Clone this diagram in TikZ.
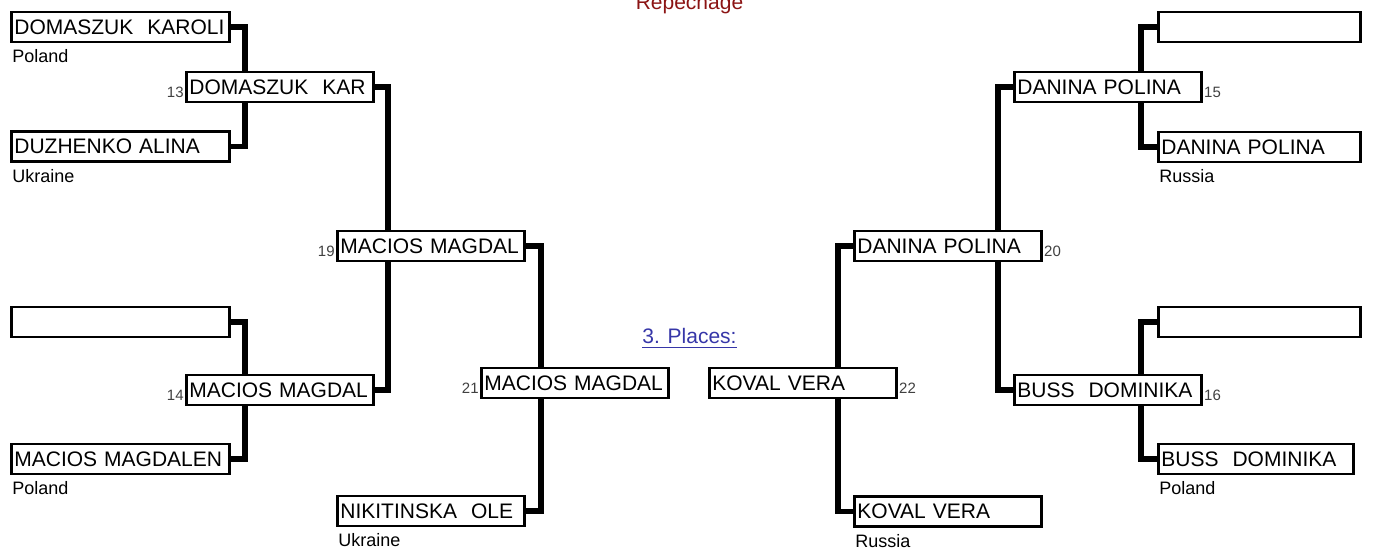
\documentclass[tikz,border=0pt]{standalone}
\usepackage{fontspec}
\setmainfont{Liberation Sans}
\usetikzlibrary{positioning}
\definecolor{repred}{HTML}{8B1414}
\definecolor{placeblue}{HTML}{3636A8}
\tikzset{
	entry/.style={draw, line width=1.4pt, fill=white, anchor=west, minimum height=15pt,
		inner xsep=1.5pt, inner ysep=0pt, align=left, font=\fontsize{10.5}{12}\selectfont},
	wideA/.style={text width=106pt},
	wideB/.style={text width=90.5pt},
	wideC/.style={text width=98pt},
	wideD/.style={text width=94.5pt},
	num/.style={inner sep=0.5pt, text=black!75, font=\fontsize{7.5}{8}\selectfont},
	nation/.style={anchor=north west, inner sep=1pt, font=\fontsize{9}{10}\selectfont},
	bracket/.style={draw, line width=2.7pt, to path={-| (\tikztotarget)}}
}
\begin{document}
\begin{tikzpicture}[x=0.5pt, y=-0.5pt]
				\useasboundingbox (0,0) rectangle (1373,549);
				\node (title) [anchor=base, text=repred, font=\fontsize{10.5}{12}\selectfont] at (689.5,10) {Repechage};
				\node (places) [anchor=base, text=placeblue, font=\fontsize{10.5}{12}\selectfont] at (689.5,344) {\underline{3. Places:}};
				% spine positions
				\coordinate (s13) at (245,0);
				\coordinate (s14) at (245,0);
				\coordinate (s19) at (388,0);
				\coordinate (s21) at (541,0);
				\coordinate (s22) at (838,0);
				\coordinate (s20) at (998,0);
				\coordinate (s15) at (1141,0);
				\coordinate (s16) at (1141,0);
				\begin{scope}[every node/.style={entry}]
					% left half
					\node (p1)[wideA] at (10,27) {DOMASZUK\ \ KAROLI};
					\node (p2)[wideA] at (10,146.5) {DUZHENKO ALINA};
					\node (p3)[wideA] at (10,322) {};
					\node (p4)[wideA] at (10,459) {MACIOS MAGDALEN};
					\node (m13)[wideB] at (185,87) {DOMASZUK\ \ KAR};
					\node (m14)[wideB] at (185,390) {MACIOS MAGDAL};
					\node (m19)[wideB] at (336,246) {MACIOS MAGDAL};
					\node (m21)[wideB] at (480,383) {MACIOS MAGDAL};
					\node (p5)[wideB] at (336,511) {NIKITINSKA\ \ OLE};
					% right half
					\node (m22)[wideB] at (708,383) {KOVAL VERA};
					\node (m20)[wideB] at (853,246) {DANINA POLINA};
					\node (q5)[wideB] at (853,511.5) {KOVAL VERA};
					\node (m15)[wideB] at (1013,87) {DANINA POLINA};
					\node (m16)[wideB] at (1013,390) {BUSS\ \ DOMINIKA};
					\node (q1)[wideC] at (1157,27) {};
					\node (q2)[wideC] at (1157,147) {DANINA POLINA};
					\node (q3)[wideC] at (1157,322) {};
					\node (q4)[wideD] at (1157,459) {BUSS\ \ DOMINIKA};
				\end{scope}
				\begin{scope}[every node/.style={num}]
					\node (n13)[left=0pt of m13.west, yshift=-2.5pt] {13};
					\node (n14)[left=0pt of m14.west, yshift=-2.5pt] {14};
					\node (n19)[left=0pt of m19.west, yshift=-2.5pt] {19};
					\node (n21)[left=0pt of m21.west, yshift=-2.5pt] {21};
					\node (n22)[right=0pt of m22.east, yshift=-2.5pt] {22};
					\node (n20)[right=0pt of m20.east, yshift=-2.5pt] {20};
					\node (n15)[right=0pt of m15.east, yshift=-2.5pt] {15};
					\node (n16)[right=0pt of m16.east, yshift=-2.5pt] {16};
				\end{scope}
				\begin{scope}[every node/.style={nation}]
					\node (c1) at ([yshift=-2pt]p1.south west) {Poland};
					\node (c2) at ([yshift=-2pt]p2.south west) {Ukraine};
					\node (c4) at ([yshift=-2pt]p4.south west) {Poland};
					\node (c5) at ([yshift=-2pt]p5.south west) {Ukraine};
					\node (c6) at ([yshift=-2pt]q5.south west) {Russia};
					\node (c7) at ([yshift=-2pt]q2.south west) {Russia};
					\node (c8) at ([yshift=-2pt]q4.south west) {Poland};
				\end{scope}
				\begin{scope}[every edge/.style={bracket}]
					\path [-] (p1.east) edge (m13.north -| s13);
					\path [-] (p2.east) edge (m13.south -| s13);
					\path [-] (p3.east) edge (m14.north -| s14);
					\path [-] (p4.east) edge (m14.south -| s14);
					\path [-] (m13.east) edge (m19.north -| s19);
					\path [-] (m14.east) edge (m19.south -| s19);
					\path [-] (m19.east) edge (m21.north -| s21);
					\path [-] (p5.east) edge (m21.south -| s21);

					\path [-] (m20.west) edge (m22.north -| s22);
					\path [-] (q5.west) edge (m22.south -| s22);
					\path [-] (m15.west) edge (m20.north -| s20);
					\path [-] (m16.west) edge (m20.south -| s20);
					\path [-] (q1.west) edge (m15.north -| s15);
					\path [-] (q2.west) edge (m15.south -| s15);
					\path [-] (q3.west) edge (m16.north -| s16);
					\path [-] (q4.west) edge (m16.south -| s16);
				\end{scope}
			\end{tikzpicture}
\end{document}
